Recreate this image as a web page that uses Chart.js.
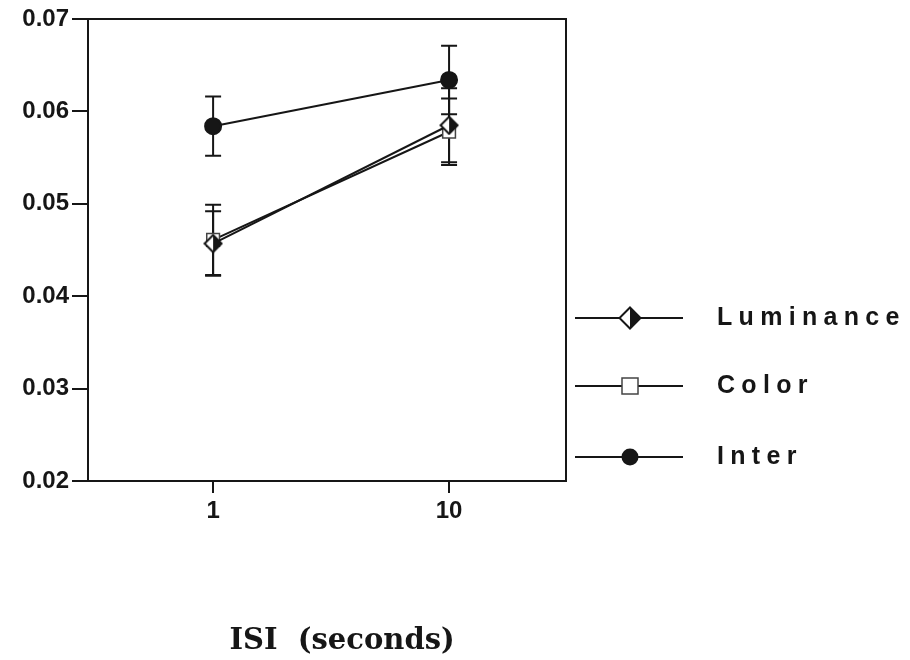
<!DOCTYPE html>
<html>
<head>
<meta charset="utf-8">
<script src="https://cdn.jsdelivr.net/npm/chart.js@4.4.1/dist/chart.umd.min.js"></script>
<style>
  html, body { margin: 0; padding: 0; background: #fff; }
  #wrap { width: 910px; height: 660px; }
</style>
</head>
<body>
<div id="wrap"><canvas id="grafico"></canvas></div>
<script>
// valores
const isi = [1, 10];
const isiLabels = ['1', '10'];
const yTicks = [0.02, 0.03, 0.04, 0.05, 0.06, 0.07];

const luminance = [0.0457, 0.0585];
const luminanceErr = [0.0035, 0.0040];
const color = [0.0461, 0.0578];
const colorErr = [0.0038, 0.0036];
const inter = [0.0584, 0.0634];
const interErr = [0.0032, 0.0037];

const seriesNames = ['Luminance', 'Color', 'Inter'];

const ink = '#161616';

// losango meio preenchido
function makeDiamond(size) {
    const c = document.createElement('canvas');
    c.width = size; c.height = size;
    const g = c.getContext('2d');
    const m = size / 2, r = size / 2 - 1.5;
    g.beginPath();
    g.moveTo(m, m - r); g.lineTo(m + r, m); g.lineTo(m, m + r); g.lineTo(m - r, m); g.closePath();
    g.fillStyle = '#fff'; g.fill();
    g.beginPath();
    g.moveTo(m, m - r); g.lineTo(m + r, m); g.lineTo(m, m + r); g.closePath();
    g.fillStyle = ink; g.fill();
    g.beginPath();
    g.moveTo(m, m - r); g.lineTo(m + r, m); g.lineTo(m, m + r); g.lineTo(m - r, m); g.closePath();
    g.lineWidth = 2; g.strokeStyle = ink; g.stroke();
    return c;
}

function pts(values) {
    return isi.map((x, i) => ({ x: x, y: values[i] }));
}

// barras de erro
const errorBars = {
    id: 'errorBars',
    beforeDatasetsDraw(chart) {
        const ctx = chart.ctx;
        const y = chart.scales.y;
        chart.data.datasets.forEach((ds, i) => {
            const meta = chart.getDatasetMeta(i);
            ctx.save();
            ctx.strokeStyle = ink;
            ctx.lineWidth = 2;
            meta.data.forEach((p, j) => {
                const v = ds.data[j].y, e = ds.errors[j];
                const top = y.getPixelForValue(v + e);
                const bot = y.getPixelForValue(v - e);
                ctx.beginPath();
                ctx.moveTo(p.x, top); ctx.lineTo(p.x, bot);
                ctx.moveTo(p.x - 8, top); ctx.lineTo(p.x + 8, top);
                ctx.moveTo(p.x - 8, bot); ctx.lineTo(p.x + 8, bot);
                ctx.stroke();
            });
            ctx.restore();
        });
    }
};

// moldura + legenda à direita
const frameLegend = {
    id: 'frameLegend',
    afterDraw(chart) {
        const ctx = chart.ctx;
        const a = chart.chartArea;
        ctx.save();
        ctx.strokeStyle = ink;
        ctx.lineWidth = 2;
        ctx.beginPath();
        ctx.moveTo(a.left, a.top); ctx.lineTo(a.right, a.top); ctx.lineTo(a.right, a.bottom);
        ctx.stroke();

        const rowsY = [318, 386, 457];
        const x0 = a.right + 9, x1 = a.right + 117, mx = a.right + 64;
        rowsY.forEach((ry, i) => {
            ctx.beginPath();
            ctx.lineWidth = 2;
            ctx.strokeStyle = ink;
            ctx.moveTo(x0, ry); ctx.lineTo(x1, ry);
            ctx.stroke();
            if (i === 0) {
                const d = makeDiamond(24);
                ctx.drawImage(d, mx - 12, ry - 12);
            } else if (i === 1) {
                ctx.fillStyle = '#fff';
                ctx.fillRect(mx - 8, ry - 8, 16, 16);
                ctx.lineWidth = 1.5;
                ctx.strokeStyle = '#444';
                ctx.strokeRect(mx - 8, ry - 8, 16, 16);
            } else {
                ctx.beginPath();
                ctx.arc(mx, ry, 8.5, 0, Math.PI * 2);
                ctx.fillStyle = ink;
                ctx.fill();
            }
            // texto espaçado
            ctx.font = 'bold 25px "Liberation Sans", Arial, sans-serif';
            ctx.fillStyle = ink;
            ctx.textBaseline = 'middle';
            let tx = a.right + 151;
            for (const ch of seriesNames[i]) {
                ctx.fillText(ch, tx, ry);
                tx += ctx.measureText(ch).width + 6.3;
            }
        });
        ctx.restore();
    }
};

const ctx = document.getElementById('grafico').getContext('2d');
new Chart(ctx, {
    type: 'line',
    data: {
        datasets: [
            {
                label: seriesNames[0],
                data: pts(luminance),
                errors: luminanceErr,
                borderColor: ink,
                borderWidth: 2,
                pointStyle: makeDiamond(20),
                pointRadius: 10
            },
            {
                label: seriesNames[1],
                data: pts(color),
                errors: colorErr,
                borderColor: ink,
                borderWidth: 2,
                pointStyle: 'rect',
                pointRadius: 9,
                pointBackgroundColor: '#fff',
                pointBorderColor: '#444',
                pointBorderWidth: 1.5
            },
            {
                label: seriesNames[2],
                data: pts(inter),
                errors: interErr,
                borderColor: ink,
                borderWidth: 2,
                pointStyle: 'circle',
                pointRadius: 8,
                pointBackgroundColor: ink,
                pointBorderColor: ink
            }
        ]
    },
    options: {
        responsive: true,
        maintainAspectRatio: false,
        animation: false,
        layout: { padding: { top: 19, right: 344, left: 0, bottom: 0 } },
        plugins: {
            legend: { display: false },
            tooltip: { enabled: false }
        },
        scales: {
            x: {
                type: 'logarithmic',
                min: 0.295,
                max: 31.3,
                afterBuildTicks: s => { s.ticks = isi.map(v => ({ value: v })); },
                afterFit: s => { s.height = 179; },
                ticks: {
                    color: ink,
                    padding: 4,
                    maxRotation: 0,
                    autoSkip: false,
                    font: { family: '"Liberation Sans", Arial, sans-serif', size: 24, weight: 'bold' },
                    callback: (v) => isiLabels[isi.indexOf(v)]
                },
                grid: { drawOnChartArea: false, tickLength: 12, color: ink, lineWidth: 2 },
                border: { color: ink, width: 2 },
                title: {
                    display: true,
                    text: '   ISI  (seconds)',
                    color: ink,
                    padding: { top: 0, bottom: 1 },
                    font: { family: '"DejaVu Serif", serif', size: 29, weight: 'bold', lineHeight: 1.2 }
                }
            },
            y: {
                min: 0.02,
                max: 0.07,
                afterBuildTicks: s => { s.ticks = yTicks.map(v => ({ value: v })); },
                afterFit: s => { s.width = 88; },
                ticks: {
                    color: ink,
                    padding: 3,
                    font: { family: '"Liberation Sans", Arial, sans-serif', size: 24, weight: 'bold' },
                    callback: v => v.toFixed(2)
                },
                grid: { drawOnChartArea: false, tickLength: 16, color: ink, lineWidth: 2 },
                border: { color: ink, width: 2 }
            }
        }
    },
    plugins: [errorBars, frameLegend]
});
</script>
</body>
</html>
